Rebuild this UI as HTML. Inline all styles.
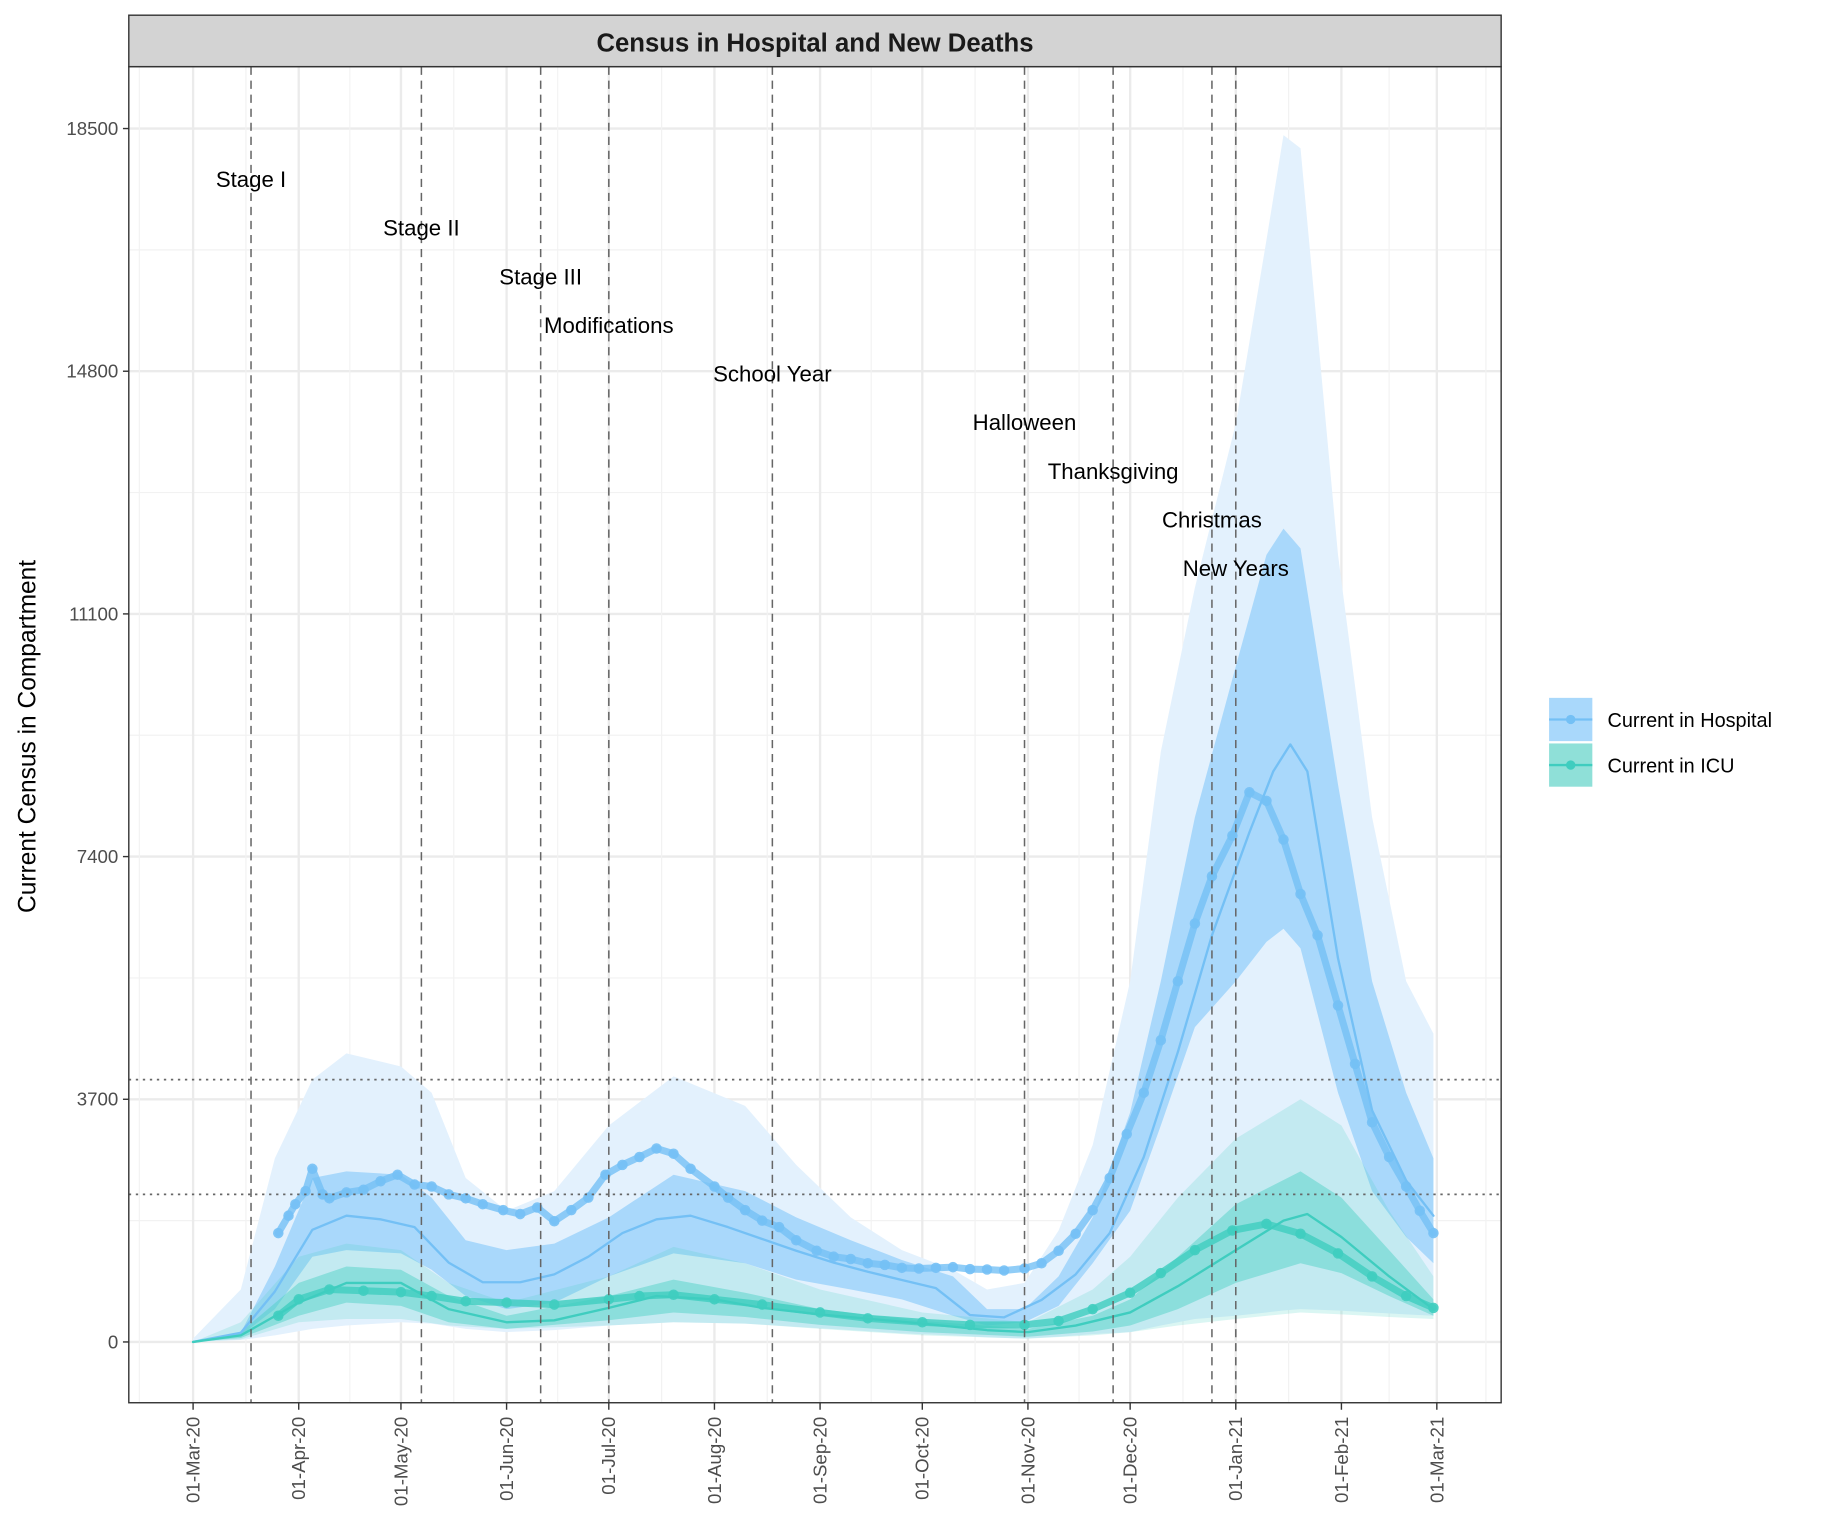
<!DOCTYPE html>
<html><head><meta charset="utf-8"><style>
html,body{margin:0;padding:0;background:#fff}
svg{display:block}
text{font-family:"Liberation Sans",Arial,sans-serif}
</style></head><body>
<svg id="chart" width="1824" height="1536" viewBox="0 0 1560 1314" xmlns="http://www.w3.org/2000/svg">
<defs><clipPath id="clip"><rect x="110" y="57" width="1174" height="1143"/></clipPath></defs>
<rect x="110" y="57" width="1174" height="1143" fill="#fff"/>
<g id="grid"></g>
<g id="marks" clip-path="url(#clip)"></g>
<g id="events"></g>
<rect x="110" y="57" width="1174" height="1143" fill="none" stroke="#333" stroke-width="1.2"/>
<rect x="110" y="13" width="1174" height="44" fill="#d3d3d3" stroke="#333" stroke-width="1.2"/>
<text x="697" y="44" text-anchor="middle" font-size="22" font-weight="bold" fill="#1a1a1a">Census in Hospital and New Deaths</text>
<g id="axes"></g>
<text transform="translate(30,630) rotate(-90)" text-anchor="middle" font-size="21" fill="#000">Current Census in Compartment</text>
<g>
<g>
<rect x="1325" y="597" width="37" height="37" fill="#a9d8fb"/>
<line x1="1325" y1="615.5" x2="1362" y2="615.5" stroke="#74c0f5" stroke-width="2"/>
<circle cx="1343.5" cy="615.5" r="4" fill="#74c0f5"/>
<text x="1375" y="622" font-size="17" fill="#000">Current in Hospital</text></g>
<g>
<rect x="1325" y="636" width="37" height="37" fill="#8fe0d8"/>
<line x1="1325" y1="654.5" x2="1362" y2="654.5" stroke="#3fcdbf" stroke-width="2"/>
<circle cx="1343.5" cy="654.5" r="4" fill="#3fcdbf"/>
<text x="1375" y="661" font-size="17" fill="#000">Current in ICU</text></g>
</g>
</svg>
<script>
// ---- data ----
const yTicks=[0,3700,7400,11100,14800,18500];
const xTickDates=["2020-03-01","2020-04-01","2020-05-01","2020-06-01","2020-07-01","2020-08-01","2020-09-01","2020-10-01","2020-11-01","2020-12-01","2021-01-01","2021-02-01","2021-03-01"];
const xTickLabels=["01-Mar-20","01-Apr-20","01-May-20","01-Jun-20","01-Jul-20","01-Aug-20","01-Sep-20","01-Oct-20","01-Nov-20","01-Dec-20","01-Jan-21","01-Feb-21","01-Mar-21"];
const eventNames=["Stage I","Stage II","Stage III","Modifications","School Year","Halloween","Thanksgiving","Christmas","New Years"];
const eventDates=["2020-03-18","2020-05-07","2020-06-11","2020-07-01","2020-08-18","2020-10-31","2020-11-26","2020-12-25","2021-01-01"];
const thresholds=[4000,2250];

const hospObsDates=["2020-03-26","2020-03-29","2020-03-31","2020-04-03","2020-04-05","2020-04-08","2020-04-10","2020-04-15","2020-04-20","2020-04-25","2020-04-30","2020-05-05","2020-05-10","2020-05-15","2020-05-20","2020-05-25","2020-05-31","2020-06-05","2020-06-10","2020-06-15","2020-06-20","2020-06-25","2020-06-30","2020-07-05","2020-07-10","2020-07-15","2020-07-20","2020-07-25","2020-08-01","2020-08-05","2020-08-10","2020-08-15","2020-08-20","2020-08-25","2020-08-31","2020-09-05","2020-09-10","2020-09-15","2020-09-20","2020-09-25","2020-09-30","2020-10-05","2020-10-10","2020-10-15","2020-10-20","2020-10-25","2020-10-31","2020-11-05","2020-11-10","2020-11-15","2020-11-20","2020-11-25","2020-11-30","2020-12-05","2020-12-10","2020-12-15","2020-12-20","2020-12-25","2020-12-31","2021-01-05","2021-01-10","2021-01-15","2021-01-20","2021-01-25","2021-01-31","2021-02-05","2021-02-10","2021-02-15","2021-02-20","2021-02-24","2021-02-28"];
const hospObs=[1660,1925,2100,2300,2640,2250,2190,2280,2320,2450,2550,2400,2370,2250,2190,2100,2010,1950,2050,1840,2010,2200,2550,2700,2820,2950,2870,2640,2370,2200,2010,1850,1750,1550,1390,1300,1265,1200,1175,1130,1120,1130,1140,1110,1105,1090,1120,1200,1390,1650,2010,2500,3170,3800,4600,5500,6380,7100,7720,8380,8250,7660,6830,6200,5130,4240,3350,2820,2370,2000,1660];

const hospMeanDates=["2020-03-01","2020-03-15","2020-03-25","2020-04-05","2020-04-15","2020-04-25","2020-05-05","2020-05-15","2020-05-25","2020-06-05","2020-06-15","2020-06-25","2020-07-05","2020-07-15","2020-07-25","2020-08-05","2020-08-15","2020-08-25","2020-09-05","2020-09-15","2020-09-25","2020-10-05","2020-10-15","2020-10-25","2020-11-05","2020-11-15","2020-11-25","2020-12-05","2020-12-15","2020-12-25","2021-01-05","2021-01-12","2021-01-17","2021-01-22","2021-01-31","2021-02-10","2021-02-20","2021-02-28"];
const hospMean=[0,140,770,1710,1925,1870,1750,1210,910,910,1030,1300,1660,1870,1925,1750,1570,1390,1210,1070,945,820,410,375,640,1030,1660,2820,4420,6200,7770,8700,9110,8700,5850,3530,2460,1925];

const bandDates=["2020-03-01","2020-03-15","2020-03-25","2020-04-05","2020-04-15","2020-05-01","2020-05-10","2020-05-20","2020-06-01","2020-06-15","2020-07-01","2020-07-20","2020-08-10","2020-08-25","2020-09-10","2020-09-25","2020-10-10","2020-10-20","2020-10-31","2020-11-10","2020-11-20","2020-12-01","2020-12-10","2020-12-20","2021-01-01","2021-01-10","2021-01-15","2021-01-20","2021-01-31","2021-02-10","2021-02-20","2021-02-28"];
const hospInnerHi=[0,140,1150,2500,2600,2550,2200,1550,1400,1500,1900,2550,2300,1900,1550,1250,1000,500,500,1000,1900,3500,5500,8000,10300,12000,12400,12100,8500,5500,3800,2800];
const hospInnerLo=[0,100,500,1300,1400,1350,1100,700,500,600,1000,1350,1200,950,800,650,400,250,300,550,1200,2000,3300,4800,5500,6100,6300,6000,3800,2300,1600,1200];
const hospOuterHi=[50,800,2800,4000,4400,4200,3800,2500,2000,2300,3300,4050,3600,2700,1900,1400,1100,800,900,1700,3000,5500,9000,11500,14000,16800,18400,18200,12000,8000,5500,4700];
const hospOuterLo=[0,30,100,200,250,300,280,200,150,180,250,300,280,230,180,130,100,70,50,80,120,150,250,350,400,450,480,500,480,450,420,400];

const icuObsDates=["2020-03-26","2020-04-01","2020-04-10","2020-04-20","2020-05-01","2020-05-10","2020-05-20","2020-06-01","2020-06-15","2020-07-01","2020-07-10","2020-07-20","2020-08-01","2020-08-15","2020-09-01","2020-09-15","2020-10-01","2020-10-15","2020-10-31","2020-11-10","2020-11-20","2020-12-01","2020-12-10","2020-12-20","2020-12-31","2021-01-10","2021-01-20","2021-01-31","2021-02-10","2021-02-20","2021-02-28"];
const icuObs=[400,650,800,780,760,700,620,600,570,650,700,720,650,570,450,360,300,260,260,320,500,750,1050,1400,1700,1800,1650,1350,1000,700,520];

const icuMeanDates=["2020-03-01","2020-03-15","2020-04-01","2020-04-15","2020-05-01","2020-05-15","2020-06-01","2020-06-15","2020-07-01","2020-07-15","2020-08-01","2020-08-15","2020-09-01","2020-10-01","2020-10-20","2020-11-01","2020-11-15","2020-12-01","2020-12-15","2021-01-01","2021-01-15","2021-01-22","2021-02-01","2021-02-15","2021-02-28"];
const icuMean=[0,100,600,900,900,500,300,330,520,700,650,520,420,280,180,150,250,450,850,1400,1850,1950,1600,1000,500];

const icuBandDates=["2020-03-01","2020-03-15","2020-04-01","2020-04-15","2020-05-01","2020-05-15","2020-06-01","2020-07-01","2020-07-20","2020-08-10","2020-09-01","2020-10-01","2020-11-01","2020-11-20","2020-12-01","2020-12-15","2021-01-01","2021-01-20","2021-02-01","2021-02-15","2021-02-28"];
const icuInnerHi=[0,150,900,1150,1100,700,400,700,950,750,500,320,200,400,650,1300,2100,2600,2200,1400,650];
const icuInnerLo=[0,60,400,600,550,300,200,330,450,380,260,150,80,160,250,500,900,1200,1050,700,400];
const icuOuterHi=[0,300,1300,1500,1400,900,600,1000,1450,1200,800,450,300,800,1300,2200,3100,3700,3300,2000,1000];
const icuOuterLo=[0,40,300,350,350,250,200,250,300,280,200,100,50,100,150,250,350,450,420,380,350];

// ---- scales ----
const T0=Date.UTC(2020,2,1);
function dayOf(s){const p=s.split('-').map(Number);return (Date.UTC(p[0],p[1]-1,p[2])-T0)/864e5;}
function X(s){return 165+dayOf(s)*2.915;}
function Y(v){return 1148-v*0.05611;}
const NS="http://www.w3.org/2000/svg";
function mk(tag,attrs,parent){const e=document.createElementNS(NS,tag);for(const k in attrs)e.setAttribute(k,attrs[k]);parent.appendChild(e);return e;}
const grid=document.getElementById('grid'),marks=document.getElementById('marks'),axes=document.getElementById('axes'),events=document.getElementById('events');

for(let i=0;i<yTicks.length;i++){
  const g=mk('line',{x1:110,x2:1284,y1:Y(yTicks[i]),y2:Y(yTicks[i]),stroke:'#ebebeb','stroke-width':2},grid);
  
  
  if(i<yTicks.length-1){const m=mk('line',{x1:110,x2:1284,y1:Y((yTicks[i]+yTicks[i+1])/2),y2:Y((yTicks[i]+yTicks[i+1])/2),stroke:'#f2f2f2','stroke-width':1},grid);
  
  }
  const tk=mk('line',{x1:105,x2:110,y1:Y(yTicks[i]),y2:Y(yTicks[i]),stroke:'#333','stroke-width':1.2},axes);
  
  
  const t=mk('text',{x:101,y:Y(yTicks[i])+5.5,'text-anchor':'end','font-size':16,fill:'#4d4d4d'},axes);
  t.textContent=yTicks[i];
  
  
}
for(let i=0;i<xTickDates.length;i++){
  const x=X(xTickDates[i]);
  const g=mk('line',{x1:x,x2:x,y1:57,y2:1200,stroke:'#ebebeb','stroke-width':2},grid);
  
  
  const xm=i<xTickDates.length-1?(x+X(xTickDates[i+1]))/2:x+42;
  const m=mk('line',{x1:xm,x2:xm,y1:57,y2:1200,stroke:'#f2f2f2','stroke-width':1},grid);
  
  
  if(i==0){const m2=mk('line',{x1:x-46,x2:x-46,y1:57,y2:1200,stroke:'#f2f2f2','stroke-width':1},grid);
  
  }
  const tk=mk('line',{x1:x,x2:x,y1:1200,y2:1206,stroke:'#333','stroke-width':1.2},axes);
  
  
  const t=mk('text',{transform:`translate(${x+5.5},1212) rotate(-90)`,'text-anchor':'end','font-size':16,fill:'#4d4d4d'},axes);
  t.textContent=xTickLabels[i];
  
  
}

function band(dates,hi,lo,fill,name){
  let d='M'+dates.map((s,i)=>X(s)+','+Y(hi[i])).join('L');
  for(let i=dates.length-1;i>=0;i--)d+='L'+X(dates[i])+','+Y(lo[i]);
  const p=mk('path',{d:d+'Z',fill:fill,stroke:'none'},marks);
  
  
}
function line(dates,vals,stroke,w,name,op){
  const p=mk('polyline',{points:dates.map((s,i)=>X(s)+','+Y(vals[i])).join(' '),fill:'none',stroke:stroke,'stroke-width':w,'stroke-linejoin':'round','stroke-linecap':'round',opacity:op||1},marks);
  
  
}
function dots(dates,vals,fill,name){
  line(dates,vals,fill,6,name+'-trace',0.8);
  dates.forEach((s,i)=>{const c=mk('circle',{cx:X(s),cy:Y(vals[i]),r:4.5,fill:fill,opacity:0.9},marks);
  
  });
}
band(bandDates,hospOuterHi,hospOuterLo,'#e3f1fd','hospital-outer-band');
band(bandDates,hospInnerHi,hospInnerLo,'#a9d8fb','hospital-inner-band');
band(icuBandDates,icuOuterHi,icuOuterLo,'rgba(72,209,196,0.2)','icu-outer-band');
band(icuBandDates,icuInnerHi,icuInnerLo,'rgba(72,209,196,0.45)','icu-inner-band');
line(hospMeanDates,hospMean,'#74c0f5',2,'hospital-mean-line');
line(icuMeanDates,icuMean,'#3fcdbf',2,'icu-mean-line');
dots(hospObsDates,hospObs,'#74c0f5','hospital-observed');
dots(icuObsDates,icuObs,'#3fcdbf','icu-observed');

eventDates.forEach((s,i)=>{
  const x=X(s);
  const l=mk('line',{x1:x,x2:x,y1:57,y2:1200,stroke:'#666','stroke-width':1.3,'stroke-dasharray':'7,5'},events);
  
  
  const t=mk('text',{x:x,y:160+i*41.6,'text-anchor':'middle','font-size':19,fill:'#000'},events);
  t.textContent=eventNames[i];
  
  
});
thresholds.forEach(v=>{
  const l=mk('line',{x1:110,x2:1284,y1:Y(v),y2:Y(v),stroke:'#666','stroke-width':1.5,'stroke-dasharray':'2,4'},events);
  
  
});
</script>
</body></html>
